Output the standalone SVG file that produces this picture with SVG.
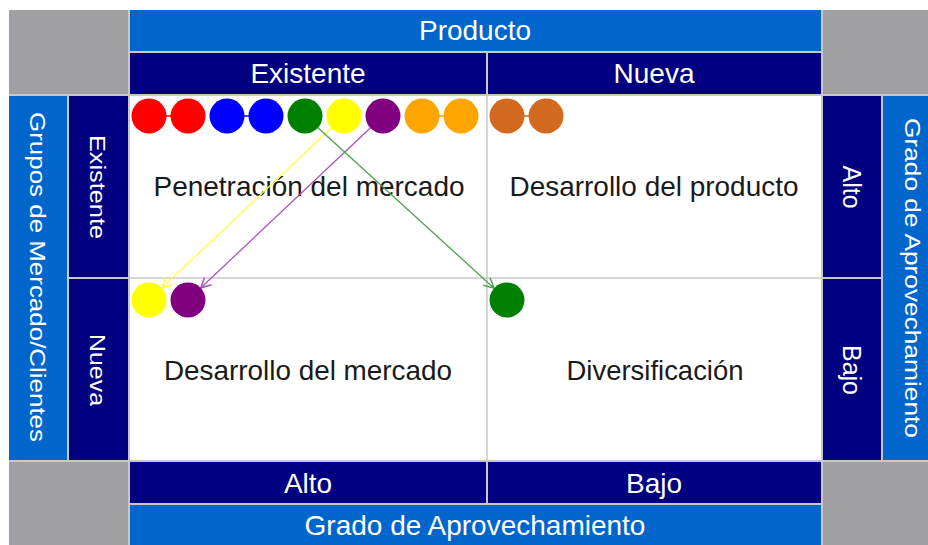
<svg xmlns="http://www.w3.org/2000/svg" width="928" height="545" viewBox="0 0 928 545">
<defs>
<style>
.blue{fill:#0066cc}
.navy{fill:#000080}
.grey{fill:#a0a0a4}
.wt{fill:#ffffff;font-family:"Liberation Sans",Arial,sans-serif;font-size:28px;text-anchor:middle}
.vt{fill:#ffffff;font-family:"Liberation Sans",Arial,sans-serif;font-size:22px;text-anchor:middle;dominant-baseline:central}
.vt2{fill:#ffffff;font-family:"Liberation Sans",Arial,sans-serif;font-size:25px;text-anchor:middle;dominant-baseline:central}
.qt{fill:#1a1a1a;font-family:"Liberation Sans",Arial,sans-serif;font-size:28px;text-anchor:middle}
.grid{stroke:#c8c8c8;stroke-width:1.5;fill:none}
</style>
<marker id="ay" viewBox="0 0 12 12" refX="11" refY="6" markerWidth="12" markerHeight="12" markerUnits="userSpaceOnUse" orient="auto"><path d="M1,1 L11,6 L1,11" fill="none" stroke="#ffff40" stroke-width="1.5"/></marker>
<marker id="ap" viewBox="0 0 12 12" refX="11" refY="6" markerWidth="12" markerHeight="12" markerUnits="userSpaceOnUse" orient="auto"><path d="M1,1 L11,6 L1,11" fill="none" stroke="#a855b8" stroke-width="1.5"/></marker>
<marker id="ag" viewBox="0 0 12 12" refX="11" refY="6" markerWidth="12" markerHeight="12" markerUnits="userSpaceOnUse" orient="auto"><path d="M1,1 L11,6 L1,11" fill="none" stroke="#4fa04f" stroke-width="1.5"/></marker>
</defs>
<rect x="9" y="10" width="919" height="535" fill="#c8c8c8"/>
<g id="corner-tl"><rect class="grey" x="9" y="10" width="119" height="84"/></g>
<g id="corner-tr"><rect class="grey" x="823" y="10" width="105" height="84"/></g>
<g id="corner-bl"><rect class="grey" x="9" y="462" width="119" height="83"/></g>
<g id="corner-br"><rect class="grey" x="823" y="462" width="105" height="83"/></g>
<g id="producto"><rect class="blue" x="130" y="10" width="691" height="41"/><text class="wt" x="475" y="40">Producto</text></g>
<g id="prod-existente"><rect class="navy" x="130" y="53" width="356" height="41"/><text class="wt" x="308" y="83">Existente</text></g>
<g id="prod-nueva"><rect class="navy" x="488" y="53" width="333" height="41"/><text class="wt" x="654" y="83">Nueva</text></g>
<g id="grupos"><rect class="blue" x="9" y="96" width="58" height="364"/><text class="vt" transform="translate(37,277) rotate(90)" textLength="330" lengthAdjust="spacingAndGlyphs">Grupos de Mercado/Clientes</text></g>
<g id="mer-existente"><rect class="navy" x="69" y="96" width="59" height="181"/><text class="vt" transform="translate(97,187) rotate(90)" textLength="104" lengthAdjust="spacingAndGlyphs">Existente</text></g>
<g id="mer-nueva"><rect class="navy" x="69" y="279" width="59" height="181"/><text class="vt" transform="translate(97,370) rotate(90)" textLength="72" lengthAdjust="spacingAndGlyphs">Nueva</text></g>
<g id="der-alto"><rect class="navy" x="823" y="96" width="58" height="181"/><text class="vt2" transform="translate(852,187) rotate(90)">Alto</text></g>
<g id="der-bajo"><rect class="navy" x="823" y="279" width="58" height="181"/><text class="vt2" transform="translate(852,370) rotate(90)">Bajo</text></g>
<g id="der-grado"><rect class="blue" x="883" y="96" width="45" height="364"/><text class="vt" transform="translate(912,278) rotate(90)" textLength="320" lengthAdjust="spacingAndGlyphs">Grado de Aprovechamiento</text></g>
<g id="inf-alto"><rect class="navy" x="130" y="462" width="356" height="41"/><text class="wt" x="308" y="493">Alto</text></g>
<g id="inf-bajo"><rect class="navy" x="488" y="462" width="333" height="41"/><text class="wt" x="654" y="493">Bajo</text></g>
<g id="inf-grado"><rect class="blue" x="130" y="505" width="691" height="40"/><text class="wt" x="475" y="535">Grado de Aprovechamiento</text></g>
<g id="matriz">
<rect x="130" y="96" width="691" height="364" fill="#ffffff"/>
<line class="grid" x1="487" y1="96" x2="487" y2="460"/>
<line class="grid" x1="130" y1="278" x2="821" y2="278"/>
</g>
<g id="q-penetracion"><text class="qt" x="309" y="196" textLength="311" lengthAdjust="spacingAndGlyphs">Penetración del mercado</text></g>
<g id="q-desarrollo-producto"><text class="qt" x="654" y="196" textLength="289" lengthAdjust="spacingAndGlyphs">Desarrollo del producto</text></g>
<g id="q-desarrollo-mercado"><text class="qt" x="308" y="380" textLength="288" lengthAdjust="spacingAndGlyphs">Desarrollo del mercado</text></g>
<g id="q-diversificacion"><text class="qt" x="655" y="380" textLength="177" lengthAdjust="spacingAndGlyphs">Diversificación</text></g>
<g id="connectors">
<line x1="149" y1="116" x2="188" y2="116" stroke="#ff0000" stroke-width="1.5"/>
<line x1="227" y1="116" x2="266" y2="116" stroke="#0000ff" stroke-width="1.5"/>
<line x1="422" y1="116" x2="461" y2="116" stroke="#ffa500" stroke-width="1.5"/>
<line x1="507" y1="116" x2="546" y2="116" stroke="#d2691e" stroke-width="1.5"/>
<line x1="331.3" y1="128" x2="161.7" y2="288" stroke="#ffff40" stroke-width="1.3" marker-end="url(#ay)"/>
<line x1="370.3" y1="128" x2="200.7" y2="288" stroke="#a855b8" stroke-width="1.3" marker-end="url(#ap)"/>
<line x1="317.9" y1="127.8" x2="494.1" y2="288.2" stroke="#4fa04f" stroke-width="1.3" marker-end="url(#ag)"/>
</g>
<g id="circulos">
<circle cx="149" cy="116" r="17.5" fill="#ff0000"/>
<circle cx="188" cy="116" r="17.5" fill="#ff0000"/>
<circle cx="227" cy="116" r="17.5" fill="#0000ff"/>
<circle cx="266" cy="116" r="17.5" fill="#0000ff"/>
<circle cx="305" cy="116" r="17.5" fill="#008000"/>
<circle cx="344" cy="116" r="17.5" fill="#ffff00"/>
<circle cx="383" cy="116" r="17.5" fill="#800080"/>
<circle cx="422" cy="116" r="17.5" fill="#ffa500"/>
<circle cx="461" cy="116" r="17.5" fill="#ffa500"/>
<circle cx="507" cy="116" r="17.5" fill="#d2691e"/>
<circle cx="546" cy="116" r="17.5" fill="#d2691e"/>
<circle cx="149" cy="300" r="17.5" fill="#ffff00"/>
<circle cx="188" cy="300" r="17.5" fill="#800080"/>
<circle cx="507" cy="300" r="17.5" fill="#008000"/>
</g>
</svg>
